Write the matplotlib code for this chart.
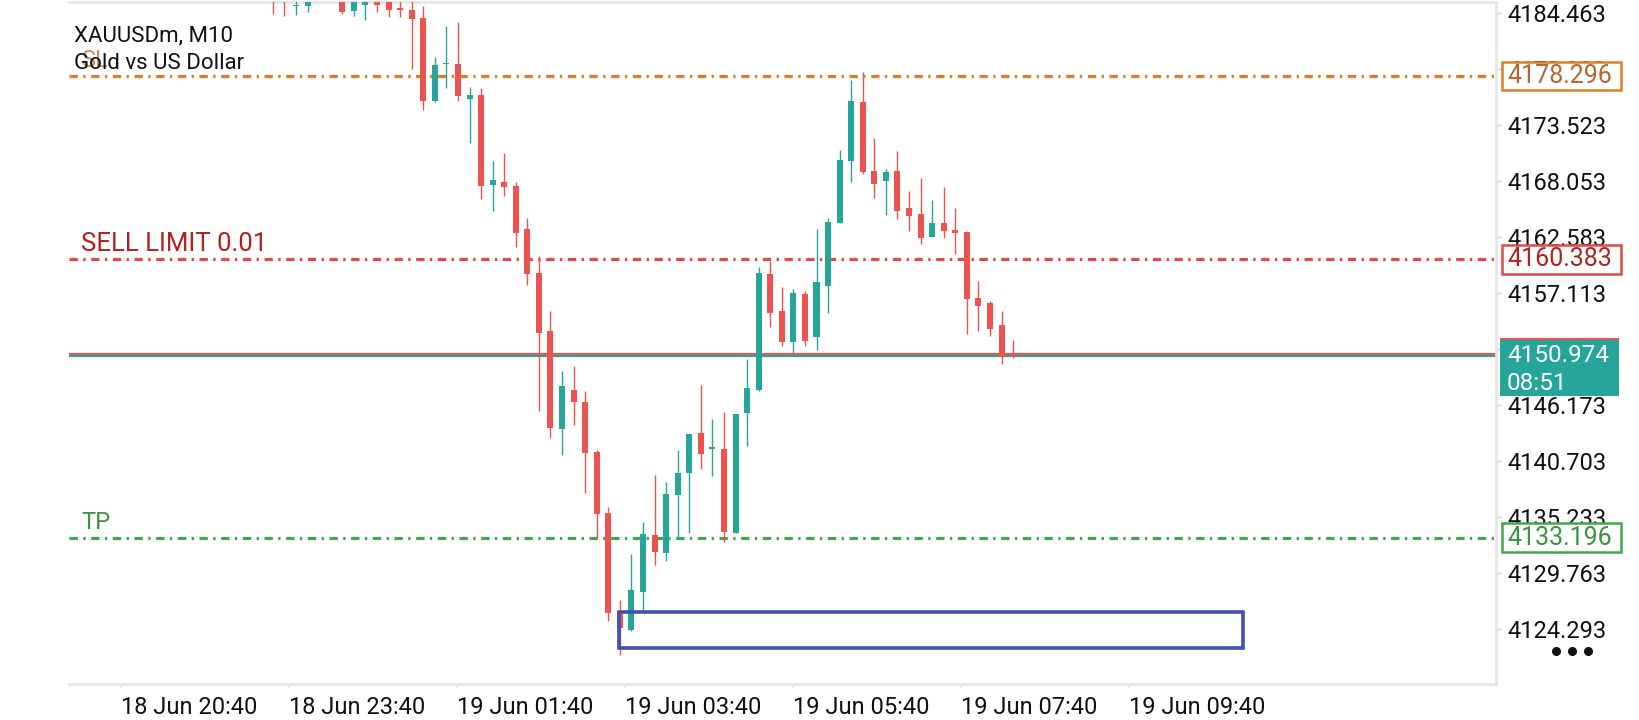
import numpy as np
import matplotlib
matplotlib.use("Agg")
import matplotlib.pyplot as plt
import matplotlib.transforms as mtransforms
from matplotlib.patches import Rectangle
from matplotlib.lines import Line2D

plt.rcParams["font.family"] = ["Roboto", "DejaVu Sans"]
plt.rcParams["lines.scale_dashes"] = False

# XAUUSDm M10 candles, oldest first (nan = bar sits above the visible range)
opens = [4186.5, 4186.6, 4185.11, 4185.17, np.nan, np.nan, 4185.8, 4184.68, 4185.23, 4185.6,
         4185.8, 4184.84, 4184.75, 4183.93, 4175.88, 4179.44, 4179.47, 4176.08, 4176.44, 4167.64,
         4167.94, 4167.55, 4163.35, 4159.04, 4153.38, 4143.83, 4147.61, 4146.44, 4141.55, 4135.59,
         4125.92, 4124.16, 4127.90, 4133.44, 4131.71, 4137.38, 4139.53, 4143.41, 4141.85, 4141.85,
         4133.67, 4145.39, 4147.61, 4158.95, 4155.33, 4152.33, 4157.00, 4152.82, 4157.80, 4163.96,
         4170.02, 4175.76, 4169.01, 4168.04, 4169.01, 4165.40, 4164.81, 4162.59, 4163.93, 4163.25,
         4163.05, 4156.63, 4156.11, 4153.96, 4151.05]
highs = [4187.0, 4187.0, 4186.5, 4186.5, np.nan, np.nan, 4186.5, 4186.3, 4186.0, 4186.0,
         4186.3, 4186.0, 4185.6, 4185.14, 4180.12, 4183.18, 4183.57, 4177.19, 4177.09, 4169.99,
         4170.77, 4167.94, 4164.42, 4160.71, 4155.33, 4149.50, 4149.96, 4147.51, 4141.75, 4136.18,
         4127.09, 4131.58, 4134.71, 4139.30, 4138.62, 4141.75, 4143.31, 4148.10, 4144.78, 4145.46,
         4145.27, 4150.64, 4159.60, 4160.22, 4157.68, 4157.48, 4157.29, 4163.35, 4164.42, 4171.06,
         4177.90, 4178.69, 4172.24, 4169.21, 4170.97, 4167.06, 4168.33, 4166.18, 4167.45, 4165.40,
         4163.15, 4158.26, 4156.31, 4155.33, 4152.50]
lows = [4184.35, 4184.19, 4184.29, 4184.58, np.nan, np.nan, 4184.38, 4184.19, 4183.80, 4184.58,
        4184.09, 4184.03, 4178.98, 4174.97, 4175.79, 4177.15, 4175.88, 4171.78, 4166.28, 4165.13,
        4166.60, 4161.61, 4157.90, 4145.59, 4142.95, 4141.29, 4144.19, 4137.57, 4133.28, 4125.07,
        4121.69, 4124.06, 4125.95, 4130.51, 4130.93, 4133.02, 4133.61, 4139.92, 4139.24, 4132.79,
        4133.67, 4142.17, 4147.51, 4153.80, 4151.94, 4151.20, 4151.94, 4151.55, 4155.17, 4163.96,
        4167.97, 4168.75, 4166.40, 4164.74, 4164.35, 4163.18, 4161.91, 4162.59, 4162.49, 4160.93,
        4153.11, 4153.41, 4152.92, 4150.20, 4150.77]
closes = [4185.5, 4185.6, 4185.23, 4185.6, np.nan, np.nan, 4184.58, 4185.7, 4185.5, 4185.26,
          4184.78, 4184.79, 4183.87, 4175.88, 4179.34, 4179.57, 4176.37, 4176.44, 4167.58, 4168.13,
          4167.48, 4162.98, 4158.97, 4153.21, 4143.93, 4148.00, 4146.47, 4141.49, 4135.52, 4125.85,
          4124.32, 4128.07, 4133.54, 4131.81, 4137.45, 4139.50, 4143.31, 4141.39, 4141.90, 4133.77,
          4145.27, 4147.81, 4159.02, 4155.17, 4152.33, 4157.09, 4152.43, 4158.17, 4164.03, 4170.09,
          4175.85, 4168.94, 4167.77, 4168.91, 4165.13, 4164.64, 4162.49, 4163.93, 4163.18, 4162.98,
          4156.53, 4155.85, 4153.60, 4150.87, 4150.97]

# axis labels
time_labels = ["18 Jun 20:40", "18 Jun 23:40", "19 Jun 01:40", "19 Jun 03:40",
               "19 Jun 05:40", "19 Jun 07:40", "19 Jun 09:40"]
price_ticks = [4124.293, 4129.763, 4135.233, 4140.703, 4146.173, 4151.643,
               4157.113, 4162.583, 4168.053, 4173.523, 4178.993, 4184.463]

# order levels
sl_price = 4178.296
sell_limit_price = 4160.383
tp_price = 4133.196
bid_price = 4150.974
ask_price = 4151.17
countdown = "08:51"

# demand zone box
zone_top = 4125.91
zone_bottom = 4122.42
zone_start_bar = 29.9
zone_end_bar = 83.9

RED = "#ef5350"
TEAL = "#26a69a"
ORANGE = "#e27b25"
LIMIT_RED = "#dd4b47"
GREEN = "#43a64b"
BLUE = "#3f51b5"
FRAME = "#e6e6e6"
DASHDOT = (0, (6, 3.9, 1.7, 4.0))

W, H = 1640, 720
fig = plt.figure(figsize=(W / 100, H / 100), dpi=100)
ax = fig.add_axes([69 / W, 36 / H, 1427 / W, 682 / H])
ax.set_xlim(-17.63, 105.75)
ax.set_ylim(4118.88, 4185.53)

# candles
o = np.array(opens)
h = np.array(highs)
l = np.array(lows)
c = np.array(closes)
x = np.arange(len(o))
ok = ~np.isnan(o)
colors = np.where(c >= o, TEAL, RED)
ax.vlines(x[ok], l[ok], h[ok], colors=colors[ok], lw=1.0, zorder=3)
body_bottom = np.minimum(o, c)
body_height = np.maximum(np.abs(c - o), 0.16)
ax.bar(x[ok], body_height[ok], width=0.52, bottom=body_bottom[ok],
       color=colors[ok], linewidth=0, zorder=3)

# level lines
ax.axhline(sl_price, color=ORANGE, lw=2.3, ls=DASHDOT, zorder=2)
ax.axhline(sell_limit_price, color=LIMIT_RED, lw=2.3, ls=DASHDOT, zorder=2)
ax.axhline(tp_price, color=GREEN, lw=2.3, ls=DASHDOT, zorder=2)
ax.axhline(ask_price, color=RED, lw=1.6, zorder=2)
ax.axhline(bid_price, color=TEAL, lw=1.6, zorder=2)

ax.add_patch(Rectangle((zone_start_bar, zone_bottom), zone_end_bar - zone_start_bar,
                       zone_top - zone_bottom, fill=False, edgecolor=BLUE, lw=2.6, zorder=4))

trans = mtransforms.blended_transform_factory(fig.transFigure, ax.transData)


def level_label(txt, price, color, alpha=1.0, size=17):
    ax.annotate(txt, xy=(81 / W, price), xycoords=trans, xytext=(0, 6.2),
                textcoords="offset points", ha="left", va="baseline",
                fontsize=size, color=color, alpha=alpha, zorder=1)


level_label("SL", sl_price, "#c8783c", alpha=0.85)
level_label("SELL LIMIT 0.01", sell_limit_price, "#b3201f", size=18.5)
level_label("TP", tp_price, "#3a953f")


def price_box(price, text_color, edge_color):
    bh = 2.8
    ax.add_patch(Rectangle((1502 / W, price - bh / 2), 119 / W, bh, transform=trans,
                           facecolor="white", edgecolor=edge_color, lw=1.8,
                           clip_on=False, zorder=5))
    ax.text(1507 / W, price, f"{price:.3f}", transform=trans, ha="left", va="center",
            fontsize=18, color=text_color, clip_on=False, zorder=6)


price_box(sl_price, "#b5662f", ORANGE)
price_box(sell_limit_price, "#b3201f", LIMIT_RED)
price_box(tp_price, "#3a953f", GREEN)

# ask tag peeking above the bid tag
ax.add_patch(Rectangle((1500 / W, ask_price - 1.3), 119 / W, 2.8, transform=trans,
                       facecolor=RED, edgecolor="none", clip_on=False, zorder=5))
ax.add_patch(Rectangle((1500 / W, 4147.02), 119 / W, 5.48, transform=trans,
                       facecolor=TEAL, edgecolor="none", clip_on=False, zorder=6))
ax.text(1507 / W, bid_price, f"{bid_price:.3f}", transform=trans, ha="left", va="center",
        fontsize=17.5, color="white", clip_on=False, zorder=7)
ax.text(1507 / W, 4148.29, countdown, transform=trans, ha="left", va="center",
        fontsize=17.5, color="white", clip_on=False, zorder=7)

# title
fig.text(74 / W, 1 - 41.7 / H, "XAUUSDm, M10", fontsize=16, color="#111111", va="baseline")
fig.text(74 / W, 1 - 69.3 / H, "Gold vs US Dollar", fontsize=16, color="#111111", va="baseline")

# frame and ticks
ax.spines["left"].set_visible(False)
for side in ["top", "right", "bottom"]:
    ax.spines[side].set_color(FRAME)
    ax.spines[side].set_linewidth(2)

ax.yaxis.tick_right()
ax.set_yticks(price_ticks)
ax.set_yticklabels([f"{p:.3f}" for p in price_ticks])
ax.tick_params(axis="y", length=3.5, width=1, color="#cfcfcf", pad=5,
               labelsize=17, labelcolor="#111111")

ax.set_xticks(np.linspace(-13.17, 74.0, len(time_labels)))
ax.set_xticklabels(time_labels)
ax.tick_params(axis="x", length=3, width=1.5, color=FRAME, pad=6,
               labelsize=17, labelcolor="#111111")
for lab in ax.get_xticklabels():
    lab.set_ha("left")

fig.add_artist(Line2D([1556 / W, 1572 / W, 1588 / W], [1 - 651 / H] * 3,
                      transform=fig.transFigure, ls="none", marker="o", ms=5.5,
                      color="#111111"))

fig.savefig("out.png", dpi=100, facecolor="white")
